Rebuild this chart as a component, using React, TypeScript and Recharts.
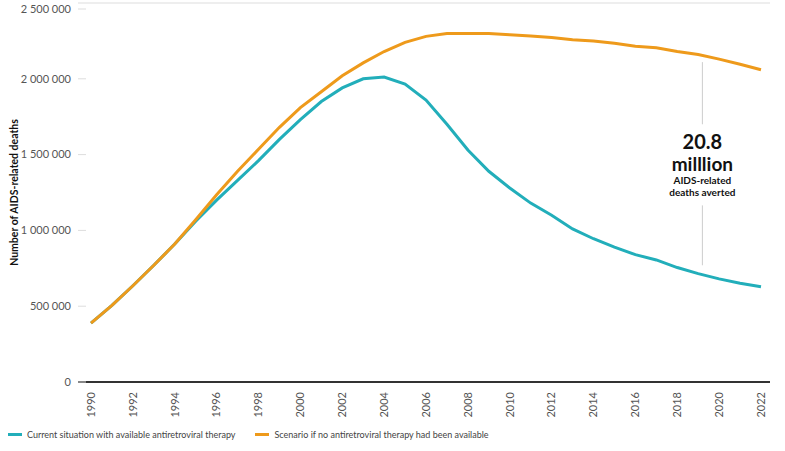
import React from 'react';
import { LineChart, Line, XAxis, YAxis, ReferenceLine, ReferenceDot } from 'recharts';

const years = [
    1990, 1991, 1992, 1993, 1994, 1995, 1996, 1997, 1998, 1999, 2000, 2001, 2002, 2003, 2004, 2005,
    2006, 2007, 2008, 2009, 2010, 2011, 2012, 2013, 2014, 2015, 2016, 2017, 2018, 2019, 2020, 2021, 2022,
];

const currentSituation = [
    389000, 505000, 635000, 770000, 910000, 1060000, 1200000, 1330000, 1460000, 1600000, 1730000,
    1850000, 1940000, 2000000, 2012000, 1965000, 1860000, 1700000, 1530000, 1390000, 1280000,
    1180000, 1100000, 1010000, 945000, 890000, 840000, 805000, 755000, 715000, 680000, 652000, 628000,
];

const noTherapy = [
    389000, 505000, 635000, 770000, 910000, 1070000, 1235000, 1390000, 1535000, 1680000, 1810000,
    1915000, 2020000, 2105000, 2180000, 2240000, 2280000, 2298000, 2298000, 2298000, 2290000,
    2283000, 2273000, 2258000, 2250000, 2234000, 2215000, 2205000, 2180000, 2160000, 2130000, 2096000, 2060000,
];

const yTicks = [0, 500000, 1000000, 1500000, 2000000, 2500000];
const xTicks = [1990, 1992, 1994, 1996, 1998, 2000, 2002, 2004, 2006, 2008, 2010, 2012, 2014, 2016, 2018, 2020, 2022];

const series = [
    { key: 'current', name: 'Current situation with available antiretroviral therapy', color: '#22AEBA' },
    { key: 'noArt', name: 'Scenario if no antiretroviral therapy had been available', color: '#EE9A1B' },
];

const data = years.map((year, i) => ({
    year,
    current: currentSituation[i],
    noArt: noTherapy[i],
}));

const FONT = 'Lato, "Open Sans", sans-serif';

const formatNumber = (v: number) => v.toString().replace(/\B(?=(\d{3})+(?!\d))/g, ' ');

const YTick = (props: any) => {
    const { x, y, payload } = props;
    return (
        <g>
            <text x={x} y={y} dy="0.35em" textAnchor="end" fontSize={11} fill="#555" fontFamily={FONT}>
                {formatNumber(payload.value)}
            </text>
            <line x1={x + 7} x2={x + 15} y1={y} y2={y} stroke="#ddd" strokeWidth={1} />
        </g>
    );
};

const XTick = (props: any) => {
    const { x, y, payload } = props;
    return (
        <text
            x={x}
            y={y}
            dy="0.35em"
            textAnchor="end"
            transform={`rotate(-90, ${x}, ${y})`}
            fontSize={11}
            fill="#555"
            fontFamily={FONT}
        >
            {payload.value}
        </text>
    );
};

// big "20.8 milllion" label next to the gap between the lines
const Annotation = (props: any) => {
    const { cx, cy } = props;
    return (
        <g fontFamily={FONT} textAnchor="middle" fill="#111">
            <text x={cx} y={cy - 6} fontSize={20} fontWeight={700}>20.8</text>
            <text x={cx} y={cy + 16} fontSize={19} fontWeight={700}>milllion</text>
            <text x={cx} y={cy + 29} fontSize={10} fontWeight={700}>AIDS-related</text>
            <text x={cx} y={cy + 41} fontSize={10} fontWeight={700}>deaths averted</text>
        </g>
    );
};

const YLabel = (props: any) => {
    const { viewBox } = props;
    const cx = viewBox.x + 14;
    const cy = viewBox.y + viewBox.height / 2;
    return (
        <text
            x={cx}
            y={cy}
            dy="0.35em"
            textAnchor="middle"
            transform={`rotate(-90, ${cx}, ${cy})`}
            fontSize={10.5}
            fontWeight={700}
            fill="#111"
            fontFamily={FONT}
        >
            Number of AIDS-related deaths
        </text>
    );
};

const App: React.FC = () => {
    return (
        <div style={{ position: 'absolute', left: 0, top: 0, width: 785, height: 451, background: '#fff' }}>
            <LineChart width={785} height={451} data={data} margin={{ top: 3, right: 15, bottom: 29, left: 0 }}>
                <XAxis
                    dataKey="year"
                    type="number"
                    domain={[1990, 2022]}
                    ticks={xTicks}
                    interval={0}
                    padding={{ left: 13, right: 9 }}
                    height={40}
                    tickLine={false}
                    tickSize={0}
                    tickMargin={10}
                    tick={<XTick />}
                    axisLine={{ stroke: '#333', strokeWidth: 2 }}
                />
                <YAxis
                    type="number"
                    domain={[0, 2500000]}
                    ticks={yTicks}
                    width={78}
                    axisLine={false}
                    tickLine={false}
                    tickSize={0}
                    tickMargin={7}
                    tick={<YTick />}
                    label={{ content: <YLabel /> }}
                />
                <ReferenceLine y={2500000} stroke="#ddd" strokeWidth={1} />
                <ReferenceLine
                    segment={[{ x: 2019.2, y: 2110000 }, { x: 2019.2, y: 1700000 }]}
                    stroke="#ccc"
                    strokeWidth={1}
                />
                <ReferenceLine
                    segment={[{ x: 2019.2, y: 1165000 }, { x: 2019.2, y: 770000 }]}
                    stroke="#ccc"
                    strokeWidth={1}
                />
                {series.map((s) => (
                    <Line
                        key={s.key}
                        type="linear"
                        dataKey={s.key}
                        name={s.name}
                        stroke={s.color}
                        strokeWidth={3}
                        dot={false}
                        activeDot={false}
                        isAnimationActive={false}
                    />
                ))}
                <ReferenceDot x={2019.2} y={1500000} r={0} shape={<Annotation />} />
            </LineChart>
            <div
                style={{
                    position: 'absolute',
                    left: 8,
                    top: 429,
                    display: 'flex',
                    gap: 20,
                    fontFamily: FONT,
                    fontSize: 9,
                    color: '#444',
                }}
            >
                {series.map((s) => (
                    <div key={s.key} style={{ display: 'flex', alignItems: 'center' }}>
                        <span style={{ display: 'inline-block', width: 14, height: 3, background: s.color, marginRight: 5 }} />
                        {s.name}
                    </div>
                ))}
            </div>
        </div>
    );
};

export default App;
